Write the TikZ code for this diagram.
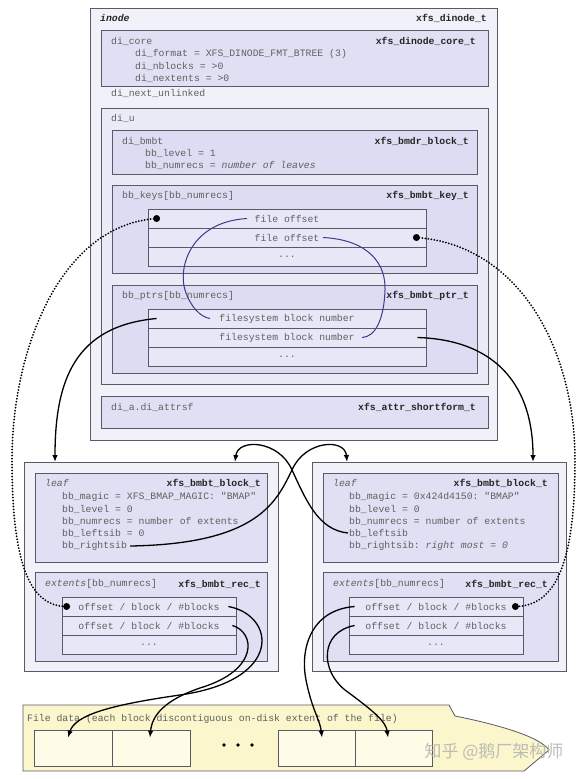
\documentclass[tikz,border=0pt]{standalone}
\usepackage{fontspec}
\setmonofont{Liberation Mono}
\newfontfamily\cjkfont{Noto Sans CJK SC}
\usetikzlibrary{arrows.meta}

\definecolor{boxline}{HTML}{5A5A66}
\definecolor{txtgray}{HTML}{606060}
\definecolor{inodefill}{HTML}{F1F1F9}
\definecolor{corefill}{HTML}{E0E0F4}
\definecolor{dufill}{HTML}{EBEBF8}
\definecolor{innerfill}{HTML}{DCDCF2}
\definecolor{rowfill}{HTML}{E7E7F8}
\definecolor{linkblue}{HTML}{3C3C8C}
\definecolor{filefill}{HTML}{FBF6CB}
\definecolor{blkfill}{HTML}{FEFBE6}

\begin{document}
\begin{tikzpicture}[x=1pt, y=-1pt,
  every node/.style={font=\ttfamily\fontsize{9.8}{11}\selectfont},
  struct/.style={draw=boxline, line width=0.9pt},
  lbl/.style={anchor=west, inner sep=0pt, text=txtgray},
  tname/.style={anchor=east, inner sep=0pt, text=black!85,
    font=\ttfamily\bfseries\fontsize{9.8}{11}\selectfont},
  row/.style={draw=boxline, fill=rowfill, line width=0.8pt, inner sep=0pt,
    minimum height=19pt, text=txtgray},
  keyrow/.style={row, minimum width=278pt},
  extrow/.style={row, minimum width=174pt},
  blk/.style={draw=boxline, fill=blkfill, line width=0.8pt, inner sep=0pt,
    minimum height=36pt, minimum width=78pt},
  ptr/.style={-{Latex[length=7pt,width=5.5pt]}, line width=1.3pt},
  dotline/.style={line width=2pt, line cap=round, dash pattern=on 0pt off 3pt},
  link/.style={draw=linkblue, line width=1pt}]
  \useasboundingbox[fill=white] (0,0) rectangle (580,779);

  % inode
  \draw[struct, fill=inodefill] (90,8) rectangle (497,440);
  \node[lbl, text=black!85, font=\ttfamily\bfseries\itshape\fontsize{9.8}{11}\selectfont] (inode) at (100,18) {inode};
  \node[tname] at (487,18) {xfs\_dinode\_t};

  \draw[struct, fill=corefill] (101,30) rectangle (488,86);
  \node[lbl] at (111,41) {di\_core};
  \node[tname] at (476,41) {xfs\_dinode\_core\_t};
  \node[lbl] at (135,54) {di\_format = XFS\_DINODE\_FMT\_BTREE (3)};
  \node[lbl] at (135,66) {di\_nblocks = >0};
  \node[lbl] at (135,78) {di\_nextents = >0};
  \node[lbl] at (111,93) {di\_next\_unlinked};

  \draw[struct, fill=dufill] (101,108) rectangle (488,384);
  \node[lbl] at (111,118) {di\_u};

  \draw[struct, fill=innerfill] (112,130) rectangle (477,174);
  \node[lbl] at (122,141) {di\_bmbt};
  \node[tname] at (469,141) {xfs\_bmdr\_block\_t};
  \node[lbl] at (145,153) {bb\_level = 1};
  \node[lbl] at (145,165) {bb\_numrecs = \textit{number of leaves}};

  \draw[struct, fill=innerfill] (112,185) rectangle (477,273);
  \node[lbl] at (122,196) {bb\_keys[bb\_numrecs]};
  \node[tname] at (469,196) {xfs\_bmbt\_key\_t};
  \node[keyrow] (key1) at (287,218.5) {file offset};
  \node[keyrow] (key2) at (287,237.5) {file offset};
  \node[keyrow] (key3) at (287,256.5) {...};

  \draw[struct, fill=innerfill] (112,285) rectangle (477,373);
  \node[lbl] at (122,296) {bb\_ptrs[bb\_numrecs]};
  \node[tname] at (469,296) {xfs\_bmbt\_ptr\_t};
  \node[keyrow] (ptr1) at (287,318.5) {filesystem block number};
  \node[keyrow] (ptr2) at (287,337.5) {filesystem block number};
  \node[keyrow] (ptr3) at (287,356.5) {...};

  \draw[struct, fill=corefill] (101,396) rectangle (488,428);
  \node[lbl] at (111,407) {di\_a.di\_attrsf};
  \node[tname] at (476,407) {xfs\_attr\_shortform\_t};

  % left leaf
  \draw[struct, fill=inodefill] (24,462) rectangle (278,671);
  \draw[struct, fill=corefill] (35,473) rectangle (267,562);
  \node[lbl] at (45,483) {\textit{leaf}};
  \node[tname] at (261,483) {xfs\_bmbt\_block\_t};
  \node[lbl] at (62,497) {bb\_magic = XFS\_BMAP\_MAGIC: "BMAP"};
  \node[lbl] at (62,509) {bb\_level = 0};
  \node[lbl] at (62,521) {bb\_numrecs = number of extents};
  \node[lbl] at (62,533) {bb\_leftsib = 0};
  \node[lbl] (rsibL) at (62,546) {bb\_rightsib};
  \draw[struct, fill=corefill] (35,572) rectangle (267,661);
  \node[lbl] at (45,584) {\textit{extents}[bb\_numrecs]};
  \node[tname] at (261,584) {xfs\_bmbt\_rec\_t};
  \node[extrow] (extL1) at (149,606.5) {offset / block / \#blocks};
  \node[extrow] (extL2) at (149,625.5) {offset / block / \#blocks};
  \node[extrow] (extL3) at (149,644.5) {...};

  % right leaf
  \draw[struct, fill=inodefill] (312,462) rectangle (566,671);
  \draw[struct, fill=corefill] (323,473) rectangle (558,562);
  \node[lbl] at (333,483) {\textit{leaf}};
  \node[tname] at (548,483) {xfs\_bmbt\_block\_t};
  \node[lbl] at (349,497) {bb\_magic = 0x424d4150: "BMAP"};
  \node[lbl] at (349,509) {bb\_level = 0};
  \node[lbl] at (349,521) {bb\_numrecs = number of extents};
  \node[lbl] (lsibR) at (349,533) {bb\_leftsib};
  \node[lbl] at (349,546) {bb\_rightsib: \textit{right most = 0}};
  \draw[struct, fill=corefill] (323,572) rectangle (558,661);
  \node[lbl] at (333,584) {\textit{extents}[bb\_numrecs]};
  \node[tname] at (548,584) {xfs\_bmbt\_rec\_t};
  \node[extrow] (extR1) at (436,606.5) {offset / block / \#blocks};
  \node[extrow] (extR2) at (436,625.5) {offset / block / \#blocks};
  \node[extrow] (extR3) at (436,644.5) {...};

  % file data
  \draw[draw=boxline, fill=filefill, line width=0.8pt] (23,705) -- (449,705) -- (455,716)
    .. controls (500,725) and (540,737) .. (549,750) -- (524,771) -- (23,771) -- cycle;
  \node[lbl] (fdata) at (27,719) {File data (each block discontiguous on-disk extent of the file)};
  \node[blk] (blk1) at (73,748) {};
  \node[blk] (blk2) at (151,748) {};
  \node[blk, minimum width=77pt] (blk3) at (316.5,748) {};
  \node[blk, minimum width=77pt] (blk4) at (393.5,748) {};
  \foreach \x in {224,238,252} \fill (\x,745) circle[radius=1.9pt];
  \node[font=\cjkfont\fontsize{17}{17}\selectfont, text=gray!60, opacity=0.85] (mark) at (494,752) {知乎 @鹅厂架构师};

  % end points
  \coordinate (topL) at (55,462);
  \coordinate (sibL) at (235,462);
  \coordinate (sibR) at (347,462);
  \coordinate (topR) at (533,462);
  \coordinate (dkey1) at ([xshift=9pt]key1.west);
  \coordinate (dkey2) at ([xshift=-10pt]key2.east);
  \coordinate (dextL) at ([xshift=5pt]extL1.west);
  \coordinate (dextR) at ([xshift=-8pt]extR1.east);

  % keys to ptrs
  \draw[link] ([xshift=-40pt]key1.center) .. controls (190,222) and (178,268) .. (185,290)
    .. controls (190,306) and (200,317) .. ([xshift=-77pt]ptr1.center);
  \draw[link] ([xshift=36pt]key2.center) .. controls (370,240) and (386,265) .. (385,290)
    .. controls (384,320) and (375,337) .. ([xshift=75pt]ptr2.center);

  % ptrs to leaves
  \draw[ptr] ([xshift=9pt]ptr1.west) .. controls (75,326) and (55,380) .. (topL);
  \draw[ptr] ([xshift=-9pt]ptr2.east) .. controls (500,340) and (533,390) .. (topR);

  % keys to extents
  \draw[dotline] (dkey1) .. controls (60,225) and (12,350) .. (12,460)
    .. controls (12,565) and (30,606) .. (dextL);
  \draw[dotline] (dkey2) .. controls (520,245) and (575,350) .. (575,460)
    .. controls (575,565) and (555,606) .. (dextR);
  \foreach \d in {dkey1,dkey2,dextL,dextR} \fill (\d) circle[radius=3.5pt];

  % siblings
  \draw[ptr] ([xshift=3pt]rsibL.east) .. controls (260,544) and (277,500) .. (292,470)
    .. controls (305,440) and (345,438) .. (sibR);
  \draw[ptr] ([xshift=-1pt]lsibR.west) .. controls (318,530) and (306,500) .. (292,470)
    .. controls (279,440) and (238,438) .. (sibL);

  % extents to file blocks
  \draw[ptr] ([xshift=-8pt]extL1.east) .. controls (275,615) and (285,680) .. (180,695)
    .. controls (110,705) and (75,715) .. ([shift={(-5,8)}]blk1.north);
  \draw[ptr] ([xshift=-4pt]extL2.east) .. controls (255,632) and (260,670) .. (200,688)
    .. controls (165,700) and (152,715) .. ([shift={(-1,8)}]blk2.north);
  \draw[ptr] ([xshift=6pt]extR1.west) .. controls (310,610) and (300,650) .. (306,680)
    .. controls (312,710) and (320,720) .. ([shift={(5.5,8)}]blk3.north);
  \draw[ptr] ([xshift=6pt]extR2.west) .. controls (320,632) and (320,670) .. (345,690)
    .. controls (375,712) and (386,722) .. ([shift={(-5.5,8)}]blk4.north);
\end{tikzpicture}
\end{document}
